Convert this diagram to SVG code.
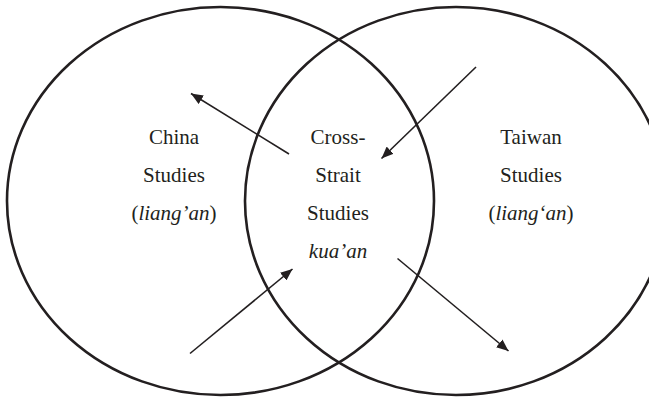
<svg xmlns="http://www.w3.org/2000/svg" width="649" height="399" viewBox="0 0 649 399">
<defs>
<style>
.c{fill:none;stroke:#231f20;stroke-width:2.6}
.a{stroke:#231f20;stroke-width:1.6;fill:none}
text{font-family:'Liberation Serif',serif;font-size:21px;fill:#231f20;text-anchor:middle}
.i{font-style:italic}
</style>
<marker id="ah" viewBox="0 0 12 10" refX="12" refY="5" markerWidth="12" markerHeight="10" markerUnits="userSpaceOnUse" orient="auto">
<path d="M0,0 L12,5 L0,10 Z" fill="#231f20"/>
</marker>
</defs>
<rect width="649" height="399" fill="#fff"/>
<g id="china">
<ellipse class="c" cx="220.5" cy="201" rx="213.5" ry="194"/>
<text x="174" y="144">China</text>
<text x="174" y="182">Studies</text>
<text x="174" y="220">(<tspan class="i">liang’an</tspan>)</text>
</g>
<g id="taiwan">
<ellipse class="c" cx="456" cy="201" rx="211" ry="194"/>
<text x="531" y="144">Taiwan</text>
<text x="531" y="182">Studies</text>
<text x="531" y="220">(<tspan class="i">liang‘an</tspan>)</text>
</g>
<g id="cross">
<text x="338" y="144">Cross-</text>
<text x="338" y="182">Strait</text>
<text x="338" y="220">Studies</text>
<text class="i" x="338" y="258">kua’an</text>
</g>
<g id="connectors">
<line class="a" x1="289" y1="154" x2="191" y2="93.5" marker-end="url(#ah)"/>
<line class="a" x1="476" y1="67" x2="381.5" y2="158.5" marker-end="url(#ah)"/>
<line class="a" x1="190" y1="353.5" x2="292.5" y2="269" marker-end="url(#ah)"/>
<line class="a" x1="397.5" y1="258.5" x2="508.5" y2="351" marker-end="url(#ah)"/>
</g>
</svg>
